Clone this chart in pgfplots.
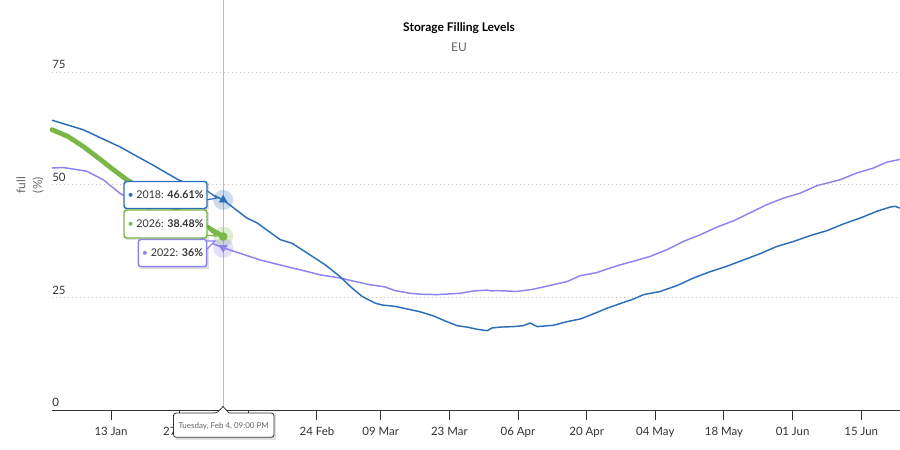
\documentclass[border=0pt]{standalone}
\usepackage{pgfplots}
\pgfplotsset{compat=1.18}
\usepackage{pgfplotstable}
\usepackage{fontspec}
\setmainfont{Lato}
\definecolor{c18}{RGB}{44,110,185}
\definecolor{c22}{RGB}{140,132,240}
\definecolor{c26}{RGB}{122,182,72}
\definecolor{txt}{RGB}{51,51,51}
\definecolor{sub}{RGB}{102,102,102}
\definecolor{gridc}{RGB}{200,196,186}

\pgfplotstableread{
d v
0.96 64.3
7.3 62.2
14.8 58.4
21.6 54.3
26.7 51.1
29.5 49.8
32.5 48.4
35.875 46.61
40.7 42.6
42.8 41.5
47.5 37.8
49.9 37.0
53.6 34.4
56.7 32.2
59.7 29.6
61.8 27.4
64.2 25.2
66.9 23.7
68.3 23.3
70.9 23.0
76.0 21.8
78.7 20.9
81.5 19.6
83.6 18.7
85.6 18.4
87.7 17.9
89.7 17.6
90.7 18.2
92.4 18.4
95.0 18.5
97.0 18.7
98.5 19.3
99.9 18.5
103.2 18.8
106.0 19.6
108.7 20.2
111.3 21.3
114.2 22.6
116.8 23.6
119.5 24.6
121.6 25.6
125.0 26.3
128.4 27.6
131.8 29.3
135.2 30.7
138.6 31.9
142.0 33.3
145.4 34.7
148.8 36.3
152.2 37.4
155.6 38.7
159.0 39.8
162.4 41.3
165.8 42.6
169.2 44.1
171.8 45.0
172.9 45.2
173.9 44.8
}\tabA

\pgfplotstableread{
d v
0.96 53.7
3.3 53.8
8.0 53.0
11.4 51.1
14.8 48.1
15.9 47.4
20 44.9
25 42.0
30 39.0
32.6 37.4
35.875 36.0
43.4 33.3
48.5 31.9
51.6 31.1
55.6 30.0
59.7 29.3
62.8 28.5
65.8 27.8
68.9 27.3
70.9 26.5
74.0 25.9
76.0 25.7
79.5 25.6
84.2 25.9
86.8 26.4
89.7 26.6
90.7 26.4
91.7 26.5
95.8 26.3
99.1 26.8
103.2 27.8
106.0 28.5
108.7 29.8
112.1 30.5
114.2 31.3
116.8 32.2
119.5 33.0
123.0 34.1
126.4 35.6
129.7 37.4
133.2 38.9
136.6 40.6
140.0 42.0
143.4 43.8
146.8 45.6
150.1 47.0
153.5 48.1
157.0 49.8
160.3 50.7
161.7 51.1
165.1 52.6
168.5 53.7
171.2 55.0
173.9 55.6
}\tabB

\pgfplotstableread{
d v
0.96 62.2
4.2 60.7
7.3 58.5
10.8 55.6
13.5 53.3
16.2 51.1
20 48.6
25 45.3
30 42.1
32.6 40.6
35.875 38.48
}\tabC

\begin{document}
\begin{tikzpicture}
\path[use as bounding box] (-39pt,-30pt) rectangle (636pt,307.5pt);
\begin{scope}[x=0.75pt,y=-0.75pt,shift={(-39pt,307.5pt)}]
\draw[black!25, line width=0.75pt] (223,0) -- (223,410);
\end{scope}
\begin{axis}[
  scale only axis, width=636pt, height=253.5pt,
  at={(0,0)}, anchor=south west,
  xmin=0.96, xmax=173.9, ymin=0, ymax=75,
  axis x line*=bottom, axis y line*=left,
  y axis line style={draw=none},
  x axis line style={-, line width=0.75pt, draw=txt},
  xtick={13,27,41,55,68,82,96,110,124,138,152,166},
  xticklabels={13 Jan,27 Jan,10 Feb,24 Feb,09 Mar,23 Mar,06 Apr,20 Apr,04 May,18 May,01 Jun,15 Jun},
  xtick align=outside, major tick length=7.5pt,
  xtick style={draw=txt, line width=0.75pt},
  ytick={0,25,50,75}, ytick style={draw=none},
  ymajorgrids,
  grid style={draw=gridc, line width=0.75pt, dash pattern=on 0.75pt off 2.25pt},
  /pgf/number format/assume math mode=true,
  tick label style={font=\fontsize{8.6}{10}\selectfont, text=txt},
  yticklabel style={anchor=south west, inner sep=0pt, yshift=2.2pt},
  xticklabel style={inner sep=0pt, yshift=-5pt},
  clip=false,
]
\addplot[c26, line width=3.6pt, line join=round, line cap=round] table[x=d,y=v] {\tabC};
\addplot[c22, line width=1.1pt, line join=round] table[x=d,y=v] {\tabB};
\addplot[c18, line width=1.1pt, line join=round] table[x=d,y=v] {\tabA};
% halos
\addplot[c18, only marks, mark=*, mark size=7.5pt, mark options={draw opacity=0, fill opacity=0.25, fill=c18}] coordinates {(35.875,46.61)};
\addplot[c26, only marks, mark=*, mark size=7.5pt, mark options={draw opacity=0, fill opacity=0.25, fill=c26}] coordinates {(35.875,38.48)};
\addplot[c22, only marks, mark=*, mark size=7.5pt, mark options={draw opacity=0, fill opacity=0.25, fill=c22}] coordinates {(35.875,36.0)};
% markers
\addplot[c18, only marks, mark=triangle*, mark size=3.4pt, mark options={draw=c18, fill=c18}] coordinates {(35.875,46.61)};
\addplot[c26, only marks, mark=*, mark size=3pt, mark options={draw=c26, fill=c26}] coordinates {(35.875,38.48)};
\addplot[c22, only marks, mark=triangle*, mark size=3.4pt, mark options={draw=c22, fill=c22, rotate=180}] coordinates {(35.875,36.0)};
\end{axis}
\begin{scope}[x=0.75pt,y=-0.75pt,shift={(-39pt,307.5pt)}]
% titles
\node[font=\bfseries\fontsize{9}{11}\selectfont, text=black] at (459,28) {Storage Filling Levels};
\node[font=\fontsize{9}{11}\selectfont, text=sub] at (459,47) {EU};
\node[rotate=90, font=\fontsize{9}{11}\selectfont, text=sub] at (21,185) {full};
\node[rotate=90, font=\fontsize{9}{11}\selectfont, text=sub] at (38,185) {(\%)};
% tooltip 2018
\fill[black, opacity=0.12] (126,183.5) rectangle (209,210.5);
\fill[white, draw=c18, line width=0.9pt] (206,190) -- (217,198) -- (206,200) -- cycle;
\draw[c18, line width=1.1pt, fill=white, rounded corners=2pt] (124,181.5) rectangle (207,208.5);
\node[font=\fontsize{8}{9}\selectfont, text=txt] at (165.5,195) {\textcolor{c18}{\textbullet}\ 2018: \textbf{46.61\%}};
% tooltip 2026
\fill[black, opacity=0.12] (126,212) rectangle (209,240);
\fill[white, draw=c26, line width=0.9pt] (206,227) -- (216,236) -- (206,235) -- cycle;
\draw[c26, line width=1.1pt, fill=white, rounded corners=2pt] (124,210) rectangle (207,238);
\node[font=\fontsize{8}{9}\selectfont, text=txt] at (165.5,223.5) {\textcolor{c26}{\textbullet}\ 2026: \textbf{38.48\%}};
% tooltip 2022
\fill[black, opacity=0.12] (140.3,241.5) rectangle (208.7,268.7);
\fill[white, draw=c22, line width=0.9pt] (206,241) -- (215,241) -- (206,250) -- cycle;
\draw[c22, line width=1.1pt, fill=white, rounded corners=2pt] (138.3,239.5) rectangle (206.7,266.7);
\node[font=\fontsize{8}{9}\selectfont, text=txt] at (172.5,252.7) {\textcolor{c22}{\textbullet}\ 2022: \textbf{36\%}};
% date tooltip
\fill[black, opacity=0.12] (175.5,415) rectangle (276,439.5);
\draw[fill=white, draw=txt, line width=0.6pt] (217,413) -- (223,406.5) -- (229,413) [rounded corners=2pt] -- (274,413) -- (274,437.3) -- (173.5,437.3) -- (173.5,413) -- cycle;
\node[font=\fontsize{6}{7}\selectfont, text=sub] at (223.7,426.5) {Tuesday, Feb 4, 09:00 PM};
\end{scope}
\end{tikzpicture}
\end{document}
